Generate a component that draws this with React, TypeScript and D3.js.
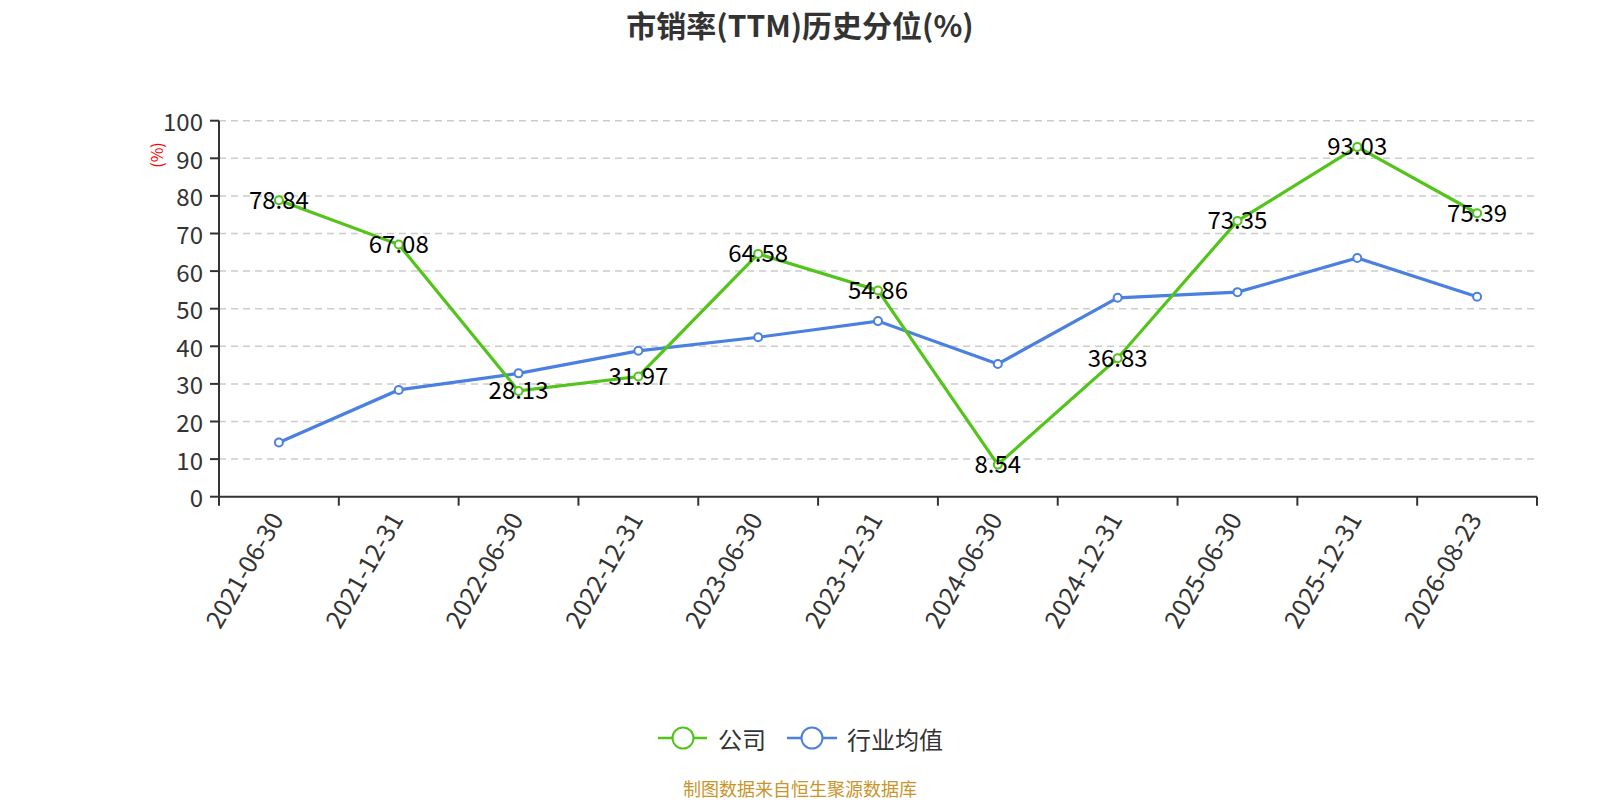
import React from "react";
import * as d3 from "d3";

const categories = ["2021-06-30","2021-12-31","2022-06-30","2022-12-31","2023-06-30","2023-12-31","2024-06-30","2024-12-31","2025-06-30","2025-12-31","2026-08-23"];
const companyValues = [78.84, 67.08, 28.13, 31.97, 64.58, 54.86, 8.54, 36.83, 73.35, 93.03, 75.39];
const industryValues = [14.4, 28.4, 32.8, 38.8, 42.4, 46.7, 35.3, 52.9, 54.4, 63.5, 53.2];
const yTicks = [0, 10, 20, 30, 40, 50, 60, 70, 80, 90, 100];

const GREEN = "#52c41a";
const BLUE = "#4a80e0";

export default function App() {
  const W = 1600, H = 800;
  const left = 219, right = 1537, top = 120.7, bottom = 496.7;
  const x = d3.scaleBand<string>().domain(categories).range([left, right]);
  const y = d3.scaleLinear().domain([0, 100]).range([bottom, top]);
  const cx = (c: string) => (x(c) as number) + x.bandwidth() / 2;
  const line = d3.line<number>().x((_, i) => cx(categories[i])).y((v) => y(v));
  const font = "'Microsoft YaHei','Noto Sans CJK SC','Noto Sans',sans-serif";
  const boundaries = categories.map((c) => x(c) as number).concat([right]);

  return (
    <svg width={W} height={H} style={{ position: "absolute", left: 0, top: 0, fontFamily: font }}>
      <rect width={W} height={H} fill="#fff" />
      <text x={800} y={24} textAnchor="middle" dominantBaseline="central" fontSize={30} fontWeight="bold" fill="#333">市销率(TTM)历史分位(%)</text>

      {yTicks.filter((t) => t > 0).map((t) => (
        <line key={t} x1={left} x2={right} y1={y(t)} y2={y(t)} stroke="#ccc" strokeWidth={1.5} strokeDasharray="7,5" />
      ))}
      {yTicks.map((t) => (
        <g key={t}>
          <line x1={left - 9} x2={left} y1={y(t)} y2={y(t)} stroke="#333" strokeWidth={2} />
          <text x={left - 16} y={y(t)} textAnchor="end" dominantBaseline="central" fontSize={24} fill="#333">{t}</text>
        </g>
      ))}
      <line x1={left} x2={left} y1={top} y2={bottom} stroke="#333" strokeWidth={2} />
      <line x1={left} x2={right} y1={bottom} y2={bottom} stroke="#333" strokeWidth={2} />
      {boundaries.map((b, i) => (
        <line key={i} x1={b} x2={b} y1={bottom} y2={bottom + 9} stroke="#333" strokeWidth={2} />
      ))}
      {categories.map((c) => (
        <text key={c} transform={`translate(${cx(c) - 4},${bottom + 17}) rotate(-60)`} textAnchor="end" dominantBaseline="central" fontSize={25} fill="#333">{c}</text>
      ))}
      <text transform={`translate(156,155) rotate(-90)`} textAnchor="middle" dominantBaseline="central" fontSize={16} fill="red">(%)</text>

      <path d={line(industryValues) || ""} fill="none" stroke={BLUE} strokeWidth={3.2} />
      <path d={line(companyValues) || ""} fill="none" stroke={GREEN} strokeWidth={3.2} />
      {industryValues.map((v, i) => (
        <circle key={i} cx={cx(categories[i])} cy={y(v)} r={4} fill="#fff" stroke={BLUE} strokeWidth={2} />
      ))}
      {companyValues.map((v, i) => (
        <circle key={i} cx={cx(categories[i])} cy={y(v)} r={4} fill="#fff" stroke={GREEN} strokeWidth={2} />
      ))}
      {companyValues.map((v, i) => (
        <text key={i} x={cx(categories[i])} y={y(v) - 2} textAnchor="middle" dominantBaseline="central" fontSize={24} fill="#000">{v.toFixed(2)}</text>
      ))}

      <g>
        <line x1={658} x2={707} y1={738} y2={738} stroke={GREEN} strokeWidth={2.5} />
        <circle cx={683} cy={738} r={10.5} fill="#fff" stroke={GREEN} strokeWidth={2} />
        <text x={718} y={738} dominantBaseline="central" fontSize={24} fill="#333">公司</text>
        <line x1={787} x2={837} y1={738} y2={738} stroke={BLUE} strokeWidth={2.5} />
        <circle cx={812} cy={738} r={10.5} fill="#fff" stroke={BLUE} strokeWidth={2} />
        <text x={847} y={738} dominantBaseline="central" fontSize={24} fill="#333">行业均值</text>
      </g>
      <text x={800} y={788} textAnchor="middle" dominantBaseline="central" fontSize={18} fill="#c8952a">制图数据来自恒生聚源数据库</text>
    </svg>
  );
}
